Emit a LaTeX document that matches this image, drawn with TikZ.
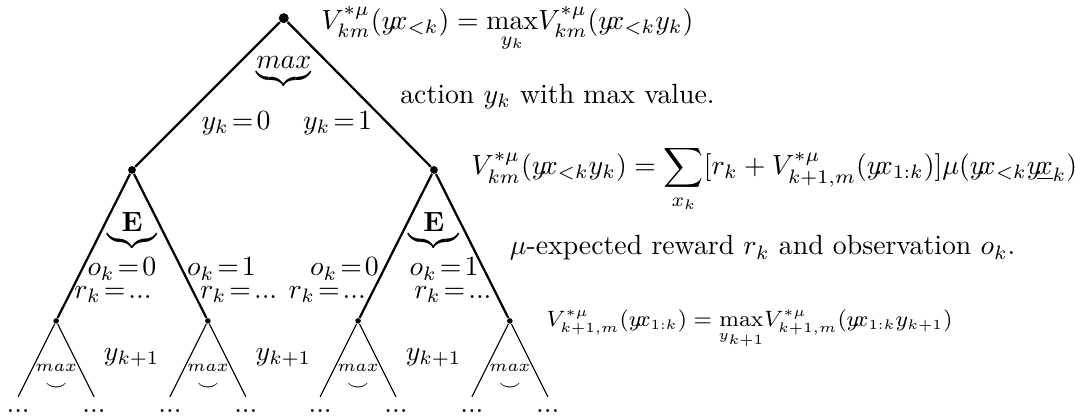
\documentclass[tikz,border=0pt]{standalone}
\usepackage{amsmath}
\usepackage{amssymb}
\usepackage{tikz}
\usetikzlibrary{positioning}

\newcommand{\yx}{y\mkern-3mu x}
\newcommand{\yxu}{y\mkern-3mu\underline{x}}

\begin{document}
\begin{tikzpicture}[node distance=1cm, on grid,
    bigdot/.style={circle, fill=black, inner sep=0pt, minimum size=3.6pt},
    middot/.style={circle, fill=black, inner sep=0pt, minimum size=2.8pt},
    smalldot/.style={circle, fill=black, inner sep=0pt, minimum size=2pt},
    branch/.style={draw, thick},
    twig/.style={draw, thin},
    edgelbl/.style={inner sep=1.5pt},
    tinymath/.style={font=\fontsize{6}{6}\selectfont},
    etc/.style={inner sep=1pt}]

    \useasboundingbox (0,0) rectangle (13.6,-5.29);

    \node [bigdot] (root) at (3.59,-0.23) {};
    \node [middot, below left=1.92cm and 1.92cm of root] (ya) {};
    \node [middot, below right=1.92cm and 1.90cm of root] (yb) {};
    \node [smalldot, below left=1.91cm and 0.96cm of ya] (xaa) {};
    \node [smalldot, below right=1.91cm and 0.96cm of ya] (xab) {};
    \node [smalldot, below left=1.91cm and 0.96cm of yb] (xba) {};
    \node [smalldot, below right=1.91cm and 0.96cm of yb] (xbb) {};

    \path [branch] (root) -- node[pos=0.7, right=0.16cm] {$y_k\!=\!0$} (ya);
    \path [branch] (root) -- node[pos=0.7, left=0.07cm] {$y_k\!=\!1$} (yb);

    \path [branch] (ya) -- node[edgelbl, pos=0.66, anchor=west] {$o_k\!=\!0$} node[edgelbl, pos=0.84, anchor=west] {$r_k\!=\!...$} (xaa);
    \path [branch] (ya) -- node[edgelbl, pos=0.66, anchor=west] {$o_k\!=\!1$} node[edgelbl, pos=0.84, anchor=west] {$r_k\!=\!...$} (xab);
    \path [branch] (yb) -- node[edgelbl, pos=0.66, anchor=east] {$o_k\!=\!0$} node[edgelbl, pos=0.84, anchor=east] {$r_k\!=\!...$} (xba);
    \path [branch] (yb) -- node[edgelbl, pos=0.66, anchor=east] {$o_k\!=\!1$} node[edgelbl, pos=0.84, anchor=east] {$r_k\!=\!...$} (xbb);

    \node [below=0.69cm of root] (maxroot) {$\underbrace{max}$};
    \node [below=0.78cm of ya] (ea) {$\underbrace{\mathbf{E}}$};
    \node [below=0.78cm of yb] (eb) {$\underbrace{\mathbf{E}}$};

    % leaves
    \foreach \n in {xaa, xab, xba, xbb} {
        \coordinate [below left=0.96cm and 0.48cm of \n] (\n-l);
        \coordinate [below right=0.96cm and 0.48cm of \n] (\n-r);
        \path [twig] (\n-l) -- (\n) -- (\n-r);
        \node [tinymath, below=0.59cm of \n] (\n-max) {$max$};
        \node [below=0.84cm of \n] (\n-smile) {$\scriptstyle\smile$};
        \node [etc, below=0.12cm of \n-l] (\n-dl) {$...$};
        \node [etc, below=0.12cm of \n-r] (\n-dr) {$...$};
    }

    \node [below right=0.47cm and 0.955cm of xaa] (yka) {$y_{k+1}$};
    \node [below right=0.47cm and 0.955cm of xab] (ykb) {$y_{k+1}$};
    \node [below right=0.47cm and 0.955cm of xba] (ykc) {$y_{k+1}$};

    % formulas and comments
    \node [below right=0.14cm and 0.35cm of root, anchor=base west] (vroot)
        {$\displaystyle V^{*\mu}_{km}(\yx_{<k})=\max_{y_k}\!V^{*\mu}_{km}(\yx_{<k}y_k)$};
    \node [below right=1.075cm and 1.35cm of root, anchor=base west] (action)
        {action $y_k$ with max value.};
    \node [below right=0.06cm and 0.35cm of yb, anchor=base west] (vyb)
        {$\displaystyle V^{*\mu}_{km}(\yx_{<k}y_k)=\sum_{x_k}[r_k+V^{*\mu}_{k+1,m}(\yx_{1:k})]\mu(\yx_{<k}\yxu_k)$};
    \node [below right=1.075cm and 0.835cm of yb, anchor=base west] (expect)
        {$\mu$-expected reward $r_k$ and observation $o_k$.};
    \node [below right=0.07cm and 0.34cm of xbb, anchor=base west, font=\fontsize{7.6}{9}\selectfont] (vxbb)
        {$\displaystyle V^{*\mu}_{k+1,m}(\yx_{1:k})=\max_{y_{k+1}}\!V^{*\mu}_{k+1,m}(\yx_{1:k}y_{k+1})$};
\end{tikzpicture}
\end{document}
